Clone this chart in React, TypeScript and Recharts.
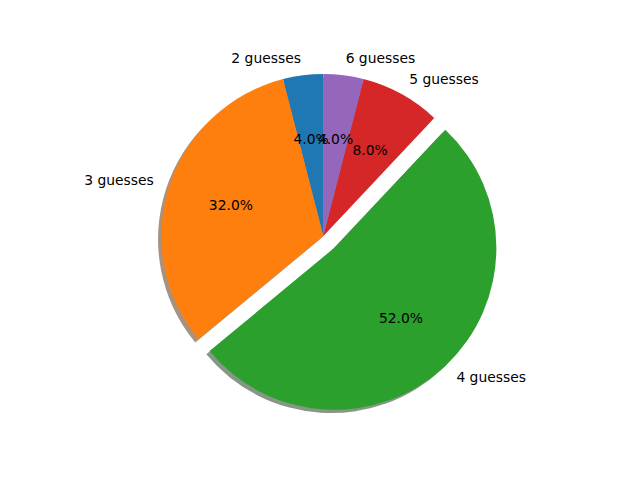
import { PieChart, Pie, Cell } from "recharts";

const LABELS = ["2 guesses", "3 guesses", "4 guesses", "5 guesses", "6 guesses"];
const COUNTS = [1, 8, 13, 2, 1];
const EXPLODE = [0, 0, 0.1, 0, 0];
const COLORS = ["#1f77b4", "#ff7f0e", "#2ca02c", "#d62728", "#9467bd"];

const data = LABELS.map((name, i) => ({ name, value: COUNTS[i] }));
const total = COUNTS.reduce((s, v) => s + v, 0);

const W = 640;
const H = 480;
const CX = 323.3;
const CY = 236;
const R = 162;
const START = 90;
const RAD = Math.PI / 180;
const FONT = 13.89;
const SHADOW = 0.02 * R;
const TEXT_DY = -1;

// matplotlib shadow: 0.3 * face colour at alpha 0.5
function shadowColor(hex: string) {
  const n = parseInt(hex.slice(1), 16);
  const r = Math.round(((n >> 16) & 255) * 0.3);
  const g = Math.round(((n >> 8) & 255) * 0.3);
  const b = Math.round((n & 255) * 0.3);
  return `rgb(${r},${g},${b})`;
}

function midAngle(i: number) {
  const before = COUNTS.slice(0, i).reduce((s, v) => s + v, 0);
  return START + ((before + COUNTS[i] / 2) / total) * 360;
}

function centerFor(i: number) {
  const a = midAngle(i) * RAD;
  const d = EXPLODE[i] * R;
  return { x: CX + d * Math.cos(a), y: CY - d * Math.sin(a) };
}

function makeLabel(k: number) {
  return (props: any) => {
    if (props.index !== k) return null;
    const c = centerFor(k);
    const a = midAngle(k) * RAD;
    const lx = c.x + 1.1 * R * Math.cos(a);
    const ly = c.y - 1.1 * R * Math.sin(a) + TEXT_DY;
    const px = c.x + 0.6 * R * Math.cos(a);
    const py = c.y - 0.6 * R * Math.sin(a) + TEXT_DY;
    const pct = ((COUNTS[k] / total) * 100).toFixed(1) + "%";
    return (
      <g>
        <text x={lx} y={ly} textAnchor={lx > c.x ? "start" : "end"} dominantBaseline="central"
          fontFamily="DejaVu Sans" fontSize={FONT} fill="#000">{LABELS[k]}</text>
        <text x={px} y={py} textAnchor="middle" dominantBaseline="central"
          fontFamily="DejaVu Sans" fontSize={FONT} fill="#000">{pct}</text>
      </g>
    );
  };
}

export default function App() {
  return (
    <div style={{ position: "absolute", left: 0, top: 0, width: W, height: H, background: "#fff" }}>
      <style>{"body{margin:0}"}</style>
      <PieChart width={W} height={H} margin={{ top: 0, right: 0, bottom: 0, left: 0 }}>
        {/* shadows under every wedge */}
        {LABELS.map((_, k) => {
          const c = centerFor(k);
          return (
            <Pie key={"s" + k} data={data} dataKey="value" nameKey="name"
              cx={c.x - SHADOW} cy={c.y + SHADOW} outerRadius={R}
              startAngle={START} endAngle={START + 360}
              stroke="none" labelLine={false} isAnimationActive={false}>
              {data.map((_, i) => (
                <Cell key={i} fill={i === k ? shadowColor(COLORS[i]) : "none"}
                  fillOpacity={0.5} stroke="none" />
              ))}
            </Pie>
          );
        })}
        {LABELS.map((_, k) => {
          const c = centerFor(k);
          return (
            <Pie key={"w" + k} data={data} dataKey="value" nameKey="name"
              cx={c.x} cy={c.y} outerRadius={R}
              startAngle={START} endAngle={START + 360}
              stroke="none" labelLine={false} label={makeLabel(k)} isAnimationActive={false}>
              {data.map((_, i) => (
                <Cell key={i} fill={i === k ? COLORS[i] : "none"} stroke="none" />
              ))}
            </Pie>
          );
        })}
      </PieChart>
    </div>
  );
}
